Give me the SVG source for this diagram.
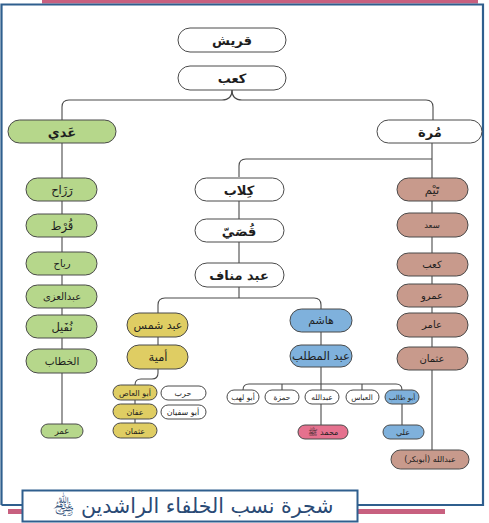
<svg xmlns="http://www.w3.org/2000/svg" width="489" height="523" viewBox="0 0 489 523">
<style>
text{font-family:"DejaVu Sans",sans-serif;text-anchor:middle;direction:rtl;fill:#1e1e1e}
.b{font-weight:bold}
.n rect{stroke:#4a4a4a;stroke-width:1}
.w rect{fill:#fff}
.g rect{fill:#b6d78b}
.r rect{fill:#c89a8c}
.y rect{fill:#dfcd63}
.bl rect{fill:#7fb1dc}
.p rect{fill:#e5718e}
#connectors path{fill:none;stroke:#4a4a4a;stroke-width:1.1}
</style>
<rect width="489" height="523" fill="#fff"/>
<!-- frame -->
<rect x="42" y="0" width="436" height="3.5" fill="#c8607f"/>
<path d="M1.5 505 V4.5 H483 V505 H357 M1.5 505 H23" fill="none" stroke="#2f5f8e" stroke-width="2.2"/>
<rect x="8" y="509" width="437" height="5" fill="#c8607f"/>
<rect x="22.5" y="490.5" width="335" height="31" fill="#fff" stroke="#2f5f8e" stroke-width="2"/>
<text x="193" y="513" style="font-size:20.5px;fill:#2a4a75">شجرة نسب الخلفاء الراشدين ﵃</text>

<g id="connectors">
<path d="M232 90 Q232 100 222 100 H69 Q62 100 62 107 V120"/>
<path d="M232 90 Q232 100 242 100 H426 Q433 100 433 107 V120"/>
<path d="M62 143 V424"/>
<path d="M432 143 V450"/>
<path d="M432 159 H246 Q239 159 239 166 V177"/>
<path d="M239 201 V219 M239 242 V263 M239 287 V298"/>
<path d="M158 313 V305 Q158 298 165 298 H314 Q321 298 321 305 V309"/>
<path d="M158 337 V345 M158 369 V373 Q158 379 152 379 H141 Q135 379 135 385 M135 400 V423"/>
<path d="M321 332 V345 M321 367 V390"/>
<path d="M243 390 Q243 384 249 384 H396 Q402 384 402 390 M282 384 V390 M362 384 V390"/>
<path d="M321 404 V425 M402 404 V425"/>
</g>

<g id="n-quraysh" class="n w"><rect x="178" y="28" width="108" height="24" rx="12"/><text class="b" x="232" y="45" font-size="13">قريش</text></g>
<g id="n-kaab" class="n w"><rect x="178" y="66" width="108" height="24" rx="12"/><text class="b" x="232" y="83" font-size="13">كعب</text></g>
<g id="n-adi" class="n g"><rect x="8" y="120" width="108" height="23" rx="11.5"/><text class="b" x="62" y="137" font-size="13">عَدي</text></g>
<g id="n-murra" class="n w"><rect x="377" y="120" width="105" height="23" rx="11.5"/><text class="b" x="430" y="137" font-size="13">مُرة</text></g>

<g id="n-rizah" class="n g"><rect x="26" y="178" width="71" height="23" rx="11.5"/><text x="62" y="194" font-size="11.5">رَزَاح</text></g>
<g id="n-qurt" class="n g"><rect x="26" y="214" width="71" height="23" rx="11.5"/><text x="62" y="230" font-size="11.5">قُرْط</text></g>
<g id="n-riyah" class="n g"><rect x="26" y="252" width="71" height="23" rx="11.5"/><text x="62" y="267" font-size="10">رياح</text></g>
<g id="n-abdaluzza" class="n g"><rect x="26" y="285" width="71" height="23" rx="11.5"/><text x="62" y="300" font-size="10">عبدالعزى</text></g>
<g id="n-nufayl" class="n g"><rect x="26" y="315" width="71" height="23" rx="11.5"/><text x="62" y="331" font-size="11.5">نُفَيل</text></g>
<g id="n-khattab" class="n g"><rect x="26" y="349" width="71" height="24" rx="12"/><text x="62" y="365" font-size="10.5">الخطاب</text></g>
<g id="n-umar" class="n g"><rect x="41" y="424" width="42" height="14" rx="7"/><text x="62" y="434" font-size="8.5">عمر</text></g>

<g id="n-kilab" class="n w"><rect x="195" y="178" width="89" height="23" rx="11.5"/><text class="b" x="239" y="195" font-size="13">كِلاب</text></g>
<g id="n-qusay" class="n w"><rect x="195" y="219" width="89" height="23" rx="11.5"/><text class="b" x="239" y="236" font-size="13">قُصَيّ</text></g>
<g id="n-abdmanaf" class="n w"><rect x="195" y="263" width="89" height="24" rx="12"/><text class="b" x="239" y="280" font-size="13">عبد مناف</text></g>

<g id="n-taym" class="n r"><rect x="397" y="178" width="71" height="23" rx="11.5"/><text x="432" y="194" font-size="11.5">تَيْم</text></g>
<g id="n-saad" class="n r"><rect x="397" y="213" width="71" height="24" rx="12"/><text x="432" y="228" font-size="8.5">سعد</text></g>
<g id="n-kaab2" class="n r"><rect x="397" y="253" width="71" height="23" rx="11.5"/><text x="432" y="268" font-size="10">كعب</text></g>
<g id="n-amr" class="n r"><rect x="397" y="284" width="71" height="23" rx="11.5"/><text x="432" y="299" font-size="10">عمرو</text></g>
<g id="n-amir" class="n r"><rect x="397" y="313" width="71" height="24" rx="12"/><text x="432" y="328" font-size="10">عامر</text></g>
<g id="n-uthman1" class="n r"><rect x="397" y="347" width="71" height="23" rx="11.5"/><text x="432" y="362" font-size="10">عثمان</text></g>
<g id="n-abubakr" class="n r"><rect x="391" y="450" width="78" height="19" rx="9.5"/><text x="430" y="462" font-size="8">عبدالله (أبوبكر)</text></g>

<g id="n-abdshams" class="n y"><rect x="127" y="313" width="61" height="24" rx="12"/><text x="158" y="329" font-size="11">عبد شمس</text></g>
<g id="n-umayya" class="n y"><rect x="127" y="345" width="61" height="24" rx="12"/><text x="158" y="361" font-size="11.5">أمية</text></g>
<g id="n-abulas" class="n y"><rect x="113" y="385" width="44" height="15" rx="7.5"/><text x="135" y="395.5" font-size="8">أبو العاص</text></g>
<g id="n-affan" class="n y"><rect x="113" y="404" width="44" height="15" rx="7.5"/><text x="135" y="414.5" font-size="8">عفان</text></g>
<g id="n-uthman2" class="n y"><rect x="113" y="423" width="44" height="15" rx="7.5"/><text x="135" y="433.5" font-size="8">عثمان</text></g>
<g id="n-harb" class="n w"><rect x="161" y="386" width="45" height="14" rx="7"/><text x="183" y="396" font-size="8">حرب</text></g>
<g id="n-abusufyan" class="n w"><rect x="161" y="405" width="45" height="14" rx="7"/><text x="183" y="415" font-size="8">أبو سفيان</text></g>

<g id="n-hashim" class="n bl"><rect x="290" y="309" width="62" height="23" rx="11.5"/><text x="321" y="324" font-size="11">هاشم</text></g>
<g id="n-abdulmuttalib" class="n bl"><rect x="290" y="345" width="62" height="22" rx="11"/><text x="321" y="360" font-size="11.5">عبد المطلب</text></g>
<g id="n-abulahab" class="n w"><rect x="227" y="390" width="32" height="14" rx="7"/><text x="243" y="400" font-size="7.5">أبو لهب</text></g>
<g id="n-hamza" class="n w"><rect x="265" y="390" width="34" height="14" rx="7"/><text x="282" y="400" font-size="7.5">حمزة</text></g>
<g id="n-abdullah" class="n w"><rect x="305" y="390" width="34" height="14" rx="7"/><text x="322" y="400" font-size="7.5">عبدالله</text></g>
<g id="n-abbas" class="n w"><rect x="346" y="390" width="33" height="14" rx="7"/><text x="362" y="400" font-size="7.5">العباس</text></g>
<g id="n-abutalib" class="n bl"><rect x="385" y="390" width="34" height="14" rx="7"/><text x="402" y="400" font-size="7">أبو طالب</text></g>
<g id="n-muhammad" class="n p"><rect x="298" y="425" width="50" height="14" rx="7"/><text x="323" y="435" font-size="8">محمد ﷺ</text></g>
<g id="n-ali" class="n bl"><rect x="383" y="425" width="41" height="14" rx="7"/><text x="403" y="435" font-size="8">علي</text></g>
</svg>
